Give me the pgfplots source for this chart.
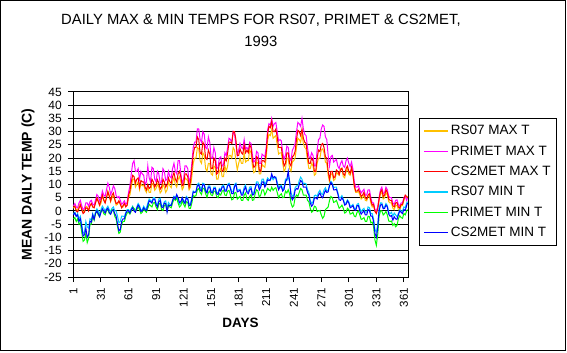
\documentclass[border=0pt]{standalone}
\usepackage{pgfplots}
\pgfplotsset{compat=1.18}
\usepackage{pgfplotstable}
\usepackage{fontspec}
\setmainfont{Liberation Sans}
\definecolor{rsmax}{HTML}{FFC000}
\definecolor{primax}{HTML}{FF00FF}
\definecolor{csmax}{HTML}{FF0000}
\definecolor{rsmin}{HTML}{00CCFF}
\definecolor{primin}{HTML}{00FF00}
\definecolor{csmin}{HTML}{0000FF}
\pgfplotstableread{
day rsmax primax csmax rsmin primin csmin
1 1 2 1.5 -1 -3 -1.5
2.5 1.8 2.8 1.8 -0.5 -2.5 -0.8
4 0.5 1.5 0 -2 -4 -2
5.5 0.2 1.2 -0.5 -1 -3 -1.5
7 2 3 1 -3 -5 -4
8.5 3 4 2.2 -2 -4.5 -3
10 1 2 0.5 -5 -8 -6
11.5 -0.5 0.5 -1 -8.5 -11.5 -9.5
13 0 1 -0.5 -8 -11 -9
14.5 1.8 3 1.2 -4 -8.5 -6.5
16 1.5 3 1 -6 -12 -10
17.5 0.2 1.8 0 -6.5 -10.5 -9
19 2 3.5 2 -3 -5 -4
20.5 2.8 4 2.8 -3.5 -5 -4.2
22 1.5 2.5 1.5 -1 -2 -1.5
23.5 1.2 2.2 1.2 -2.8 -3.5 -3.2
25 3 4 3 -0.5 -1 -1
26.5 5 6.2 4.8 0.8 -0.2 0
28 4 5.5 3.5 0 -1.5 -1
29.5 2 3.8 2.2 -1.2 -2.2 -2.2
31 3 5 4 0.5 0 -0.5
32.5 5.8 7.5 6 1.8 0.5 0.8
34 4.5 6 4 1 -1 0
35.5 3.2 5.5 3 0 -1.5 -0.8
37 5 8 5 1 0 0.5
38.5 7.5 10.5 7.2 1.8 0.5 1
40 6 9 5.5 0.5 -1 -0.5
41.5 3.5 6.2 3.8 -0.2 -1.2 -1.2
43 5 7.5 6 1 0.5 0
44.5 6 9.5 6.8 1.5 0.2 0.5
46 4 8.5 4.5 0 -2 -1
47.5 2.2 5.8 2.8 0 -3 -2
49 2.5 5 3 -2 -6 -5
50.5 3.8 5.5 3.8 -4.5 -8.5 -7.5
52 3 4 2.5 -4 -8 -7
53.5 1.2 2.5 1.2 -2 -5 -4
55 1.5 3 2 -2 -4 -3
56.5 2.8 3.8 2.8 -2.2 -4 -3
58 2 2.5 1.5 -0.5 -2 -1
59.5 2 3.2 2.2 0.5 -0.8 0
61 5 7 6 0.5 -0.5 0
62.5 6 9.5 7.5 -0.2 -1.2 -0.8
64 9 14 11 1 0 0.5
65.5 12 18 13.5 1.8 1.5 1.2
67 12 19 13 0.5 1 0
68.5 9 15 10.5 0 -0.2 -0.5
70 10 15 12 1.5 0.5 1
71.5 11 16 12.5 2.8 1.5 2.2
73 8 12 9 2 0.5 1.5
74.5 10.2 15 11.5 0.2 -1 -0.2
76 9.5 14 11 0.5 -0.5 0
77.5 9.8 13.5 11 1.8 0.8 1.2
79 8 10 9 1 0 0.5
80.5 7 11 8 1 -0.5 0.2
82 9 17 10 3 1 2
83.5 7 12.5 8.5 4.5 2.5 3.8
85 7 11 9 4 2 3.5
86.5 10.5 16.5 12 3.5 1.5 3
88 10 16 11 5 3 4.5
89.5 7.8 12 9 5 3.2 4.5
91 8.5 11 10 3 1.5 2.5
92.5 10.2 15 11.8 2.2 0.5 1.5
94 9 14 10.5 4.5 2.5 3.5
95.5 6.8 10.5 8.2 4.8 3 4
97 7.5 11 9 2 0.5 1.5
98.5 10.2 16 12 1.8 0.2 1.2
100 9 15 11 3.5 2 3
101.5 7 11.5 9 3.8 2.5 2.8
103 8 12 10 1 0 -0.5
104.5 10.8 15 12.5 3.2 2.2 2.2
106 9.5 13 11 2.5 1.5 2
107.5 8.8 12.5 10.5 2.2 1.2 2
109 11 16 13 4 3 4
110.5 12.5 18 14.5 5.5 4.5 5.2
112 10 15 12 5 4 4.5
113.5 9 14 11 6 5 6.2
115 12 19 14 4 3 5
116.5 13 19 15 2.5 1.5 3.2
118 11 14 13 3 2 3.5
119.5 8 10.5 9.5 5 3.8 5
121 9 12 10 4 2.5 3.5
122.5 12.5 17 14 3.2 1.5 2.8
124 12 17 14 5.5 3.5 5
125.5 11.5 16 13 5 3.2 4.5
127 8 11 9 2.5 1 2
128.5 9 12.5 11 2.8 1 2.2
130 13 18 16 5 3 4.5
131.5 18 24 21.5 7.5 5.8 7.2
133 20 26 24 7 5.5 7
134.5 20 26 24 7.5 5.8 7.2
136 24 31 28 10 8 9.5
137.5 23.5 31 27 10.5 8.5 9.8
139 19 27 22 9 7 8
140.5 18 26 21.5 8.2 6.2 7.5
142 22 30 26 10.5 8.5 10
143.5 21 29 25 10.2 8.5 9.8
145 16 24 20 8 6.5 7.5
146.5 15 23.5 19.5 7.2 5.2 6.8
148 18 28 23 9.5 7 9
149.5 18 26 21.5 9.5 7.5 9
151 14 20 16 7.5 6 7
152.5 13.5 20 16 7.2 5.8 6.8
154 17 24 20 9 7.5 8.5
155.5 16.5 22 19 9 7.5 8.5
157 12 16 14 7 5.5 6.5
158.5 12 16.5 14.5 6.8 5 6.2
160 15 20 18 8.5 6.5 8
161.5 16 20.5 18.5 8 6 7.5
163 13 17 15 9.5 7.5 9
164.5 13 17.5 15.5 9.8 7.8 9.2
166 17 22 20 8 6 7.5
167.5 15 21 19 8 5.8 7.5
169 17 24 22 10 7.5 9.5
170.5 21 27.5 26 10.5 7.8 10
172 21 27 26 9 6 8.5
173.5 20 26 25.5 7.2 4.2 6.5
175 24 30 30 7.5 4.5 6.5
176.5 23 29 30 10 6.8 9.2
178 19 25 27 10.5 7 10
179.5 15.5 21 21 7.8 4.5 7.2
181 18 23 21 8 5 7.5
182.5 20 25.5 23.5 8.2 5.5 7.8
184 18 24 22 6.5 4 6
185.5 18 23.5 21.5 6.8 4 6
187 22 27 25 9 6 8
188.5 18.5 23.5 22 9.8 6.8 9
190 19 24 23 7.5 4.5 7
191.5 19 23 22 7.2 4 6.5
193 23 26 25 9 5.5 8
194.5 22 25.5 24 9.2 6.2 8.5
196 17 21 19 6.5 4 6
197.5 14.5 18.5 16.5 6.8 4.2 6.2
199 15 19 17 9 6.5 8.5
200.5 18.5 22.5 20.5 11 8 10.2
202 18 22 20 11 7.5 10
203.5 14 18 15.5 9 5.2 8
205 14 18 15 10 6 9
206.5 17.5 21.5 19 12 8 11
208 17 21 19 12 8 11
209.5 16.5 20.5 18.5 10 6 9
211 20 24 22 11 7 10
212.5 26.5 30.5 29 12.5 8.5 11.8
214 29 33 32 12 8 11.5
215.5 28.5 32.5 31.5 11.5 7.5 11.8
217 31 35 34 13 9 14
218.5 27.5 32 30 11.8 7.8 12.5
220 28 33 30 12.5 8.5 13
221.5 28.5 33.5 31 12.8 8.8 12.5
223 25 30 28 11 7 10
224.5 21.5 26.5 24 8.8 5 8
226 22 27 24 9.5 6 9
227.5 22 26.5 24 9.8 6.5 9.2
229 18 22 20 8 5 7.5
230.5 15 19.5 17 9 5.2 8.2
232 16 21 18 12 7.5 11
233.5 20 24.5 22 11.5 6.8 12
235 20 24 22 13 8 15
236.5 16 20 18 11 6.5 11.2
238 15 19 17 7 3 5.5
239.5 18.5 23 20.5 5.5 1.5 4.2
241 19 24 21 6 2 5
242.5 20 25.5 22.5 8.8 5 7.8
244 24 30 27 9.5 6 8.5
245.5 27.5 33.5 30.5 9.5 5.5 8.2
247 27 33 30 11.5 7 10
248.5 26 32 28.5 12.8 8.5 11.5
250 29 35 31 12 8 11
251.5 25.5 31 27.5 10.2 6 9
253 24 29 26 10.5 6 9
254.5 23.5 28.5 25.5 10.2 6 9
256 19 24 21 8 4 7
257.5 16 20.5 18 7 3.5 6
259 16 20 18 4 1 3
260.5 18 22 20 2.8 -0.5 1.8
262 17 21 19 3.5 0 2.5
263.5 13.5 17 15 5.8 1.8 4.8
265 14 17 15 6 1.5 5
266.5 18 23 20 5.5 -0.2 4.5
268 20 27 23 7 0 6
269.5 20 27.5 22.5 7.8 0.2 6.8
271 23 31 25 6.5 -1.5 5.5
272.5 23.5 32.5 25.5 6.2 -2.8 5
274 22 32 24 8 -2 6.5
275.5 18.5 28 20.5 8.8 0.5 7.8
277 18 27 20 7.5 1 7
278.5 13.5 21 15 7.8 1.5 7.2
280 11 17 12 10 4 9.5
281.5 14 20.5 15 11.2 5.5 10.8
283 14 21 15 10.5 5 10
284.5 11.5 18.5 12.5 8.8 3.2 8
286 12 19 13 9 3.5 8
287.5 14.5 19.5 15.5 9 4 8.2
289 14 17 15 7 2.5 6.5
290.5 13.5 16 13.8 5 1 4.2
292 16 18 15.5 5 1.5 4
293.5 16 19 16.2 5.8 2.2 5
295 13 17 14 4.5 1 4
296.5 12.5 16.5 13.5 2.8 -0.8 2.2
298 15 19 16 3 -0.5 2.5
299.5 16 20 17 4.2 1 3.8
301 14 18 15 3.5 0.5 3
302.5 13.5 16.8 14.2 1.8 -1.2 1.2
304 16 18.5 16.5 2 -1 1.5
305.5 13.5 15.8 14 2.5 -0.5 2
307 9 11 9.5 1 -2 0.5
308.5 7 9 7.5 0.8 -2.2 0.2
310 7 9 7.5 2.5 -0.5 2
311.5 7.5 9.5 8.2 2.8 0 2
313 6 8 7 1 -1.5 0
314.5 4.5 6.8 5.5 -0.2 -3.2 -1.2
316 5 7.5 6 0.5 -3 -0.5
317.5 6 8.2 7 1 -2.5 0
319 4 6 5 -0.5 -4 -1.5
320.5 3.8 6 4.5 -0.5 -4 -1.5
322 5.5 8 6 1.5 -2 0.5
323.5 5.8 8 6.5 1.2 -2.2 0.2
325 3 5 4 -1 -4.5 -2
326.5 1.5 3 2.2 -1 -4.2 -2
328 2 3 2.5 -3 -6 -4
329.5 -0.2 0.5 -0.2 -7 -11 -8.5
331 -0.5 0 -1 -8 -13 -10
332.5 0.8 1.5 0.8 -5 -9 -6.5
334 4 5 4.5 1 -2 0
335.5 6.5 8 7.2 3 0 2.2
337 7 9 8 3 0 2.5
338.5 4.5 6.5 5.5 1.2 -1.5 0.8
340 5 7 6 1.5 -1 1
341.5 7 9 8 2.8 -0.2 2.2
343 6 8 7 2 -1.5 1.5
344.5 3.5 5.5 4.5 -0.5 -3.8 -1.2
346 3 5 4 -1 -4 -2
347.5 3 5 4 -0.5 -3.8 -1.8
349 1 3 2 -2 -5.5 -3.5
350.5 0.5 2.5 1.5 -0.8 -4.8 -2.2
352 2 4 3 -1.5 -6 -3
353.5 2.2 4.2 3.2 -2.2 -5.5 -3.2
355 0.5 2.5 1.5 -1 -3 -1.5
356.5 0.2 1.8 1 0.5 -1.8 0
358 2 3 2.5 0 -2.5 -0.5
359.5 2 3 2.5 -0.2 -2.8 -1
361 4 5 4.5 1.5 -1 0.5
362.5 5.5 5.5 6 1.2 -1.5 0.2
364 5 4 5.5 3 0 2
365 5.5 5 5 3.5 0.5 3
}\temps

\begin{document}
\begin{tikzpicture}
\path[use as bounding box] (0,0) rectangle (567bp,353bp);
\draw[line width=1bp] (0.5bp,2.5bp) rectangle (565.5bp,352.5bp);
\begin{axis}[
  at={(73bp,76bp)}, anchor=south west,
  scale only axis, width=335bp, height=185bp,
  xmin=0.5, xmax=365.5, ymin=-25, ymax=45,
  xtick={1,31,61,91,121,151,181,211,241,271,301,331,361},
  xticklabels={1,31,61,91,121,151,181,211,241,271,301,331,361},
  ytick={-25,-20,-15,-10,-5,0,5,10,15,20,25,30,35,40,45},
  yticklabels={-25,-20,-15,-10,-5,0,5,10,15,20,25,30,35,40,45},
  xtick pos=left, ytick pos=left,
  tick align=outside, major tick length=5bp,
  tick style={black, line width=1bp},
  axis line style={line width=1bp},
  ymajorgrids, major grid style={black, line width=1bp},
  yticklabel style={font=\fontsize{12bp}{14bp}\selectfont, inner sep=0pt},
  yticklabel shift=6bp,
  xticklabel style={font=\fontsize{11.5bp}{13bp}\selectfont, rotate=90, anchor=east, inner sep=0pt},
  xticklabel shift=6bp,
  title={DAILY MAX \& MIN TEMPS FOR RS07, PRIMET \& CS2MET,\\1993},
  title style={at={(axis description cs:0.561,1.303)}, anchor=center, align=center,
    font=\fontsize{14.8bp}{22bp}\selectfont},
  xlabel={DAYS},
  xlabel style={at={(axis description cs:0.5,-0.2486)}, anchor=center,
    font=\bfseries\fontsize{13.5bp}{16bp}\selectfont},
  ylabel={MEAN DAILY TEMP (C)},
  ylabel style={at={(axis description cs:-0.134,0.5)}, anchor=center,
    font=\bfseries\fontsize{14bp}{16bp}\selectfont},
  legend image code/.code={\draw[#1, line width=1.4bp] (0bp,0bp) -- (24bp,0bp);},
  legend cell align=left,
  legend style={at={(axis description cs:1,1)}, anchor=north west,
    xshift=11bp, yshift=-26bp, draw=black, line width=1bp,
    font=\fontsize{13.5bp}{16bp}\selectfont, row sep=5.5bp,
    inner xsep=4bp, inner ysep=5bp},
]
\addplot[rsmax, line width=1bp] table[x=day, y=rsmax] {\temps};
\addlegendentry{RS07 MAX T}
\addplot[primax, line width=1bp] table[x=day, y=primax] {\temps};
\addlegendentry{PRIMET MAX T}
\addplot[csmax, line width=1bp] table[x=day, y=csmax] {\temps};
\addlegendentry{CS2MET MAX T}
\addplot[rsmin, line width=1bp] table[x=day, y=rsmin] {\temps};
\addlegendentry{RS07 MIN T}
\addplot[primin, line width=1bp] table[x=day, y=primin] {\temps};
\addlegendentry{PRIMET MIN T}
\addplot[csmin, line width=1bp] table[x=day, y=csmin] {\temps};
\addlegendentry{CS2MET MIN T}
\end{axis}
\end{tikzpicture}
\end{document}
